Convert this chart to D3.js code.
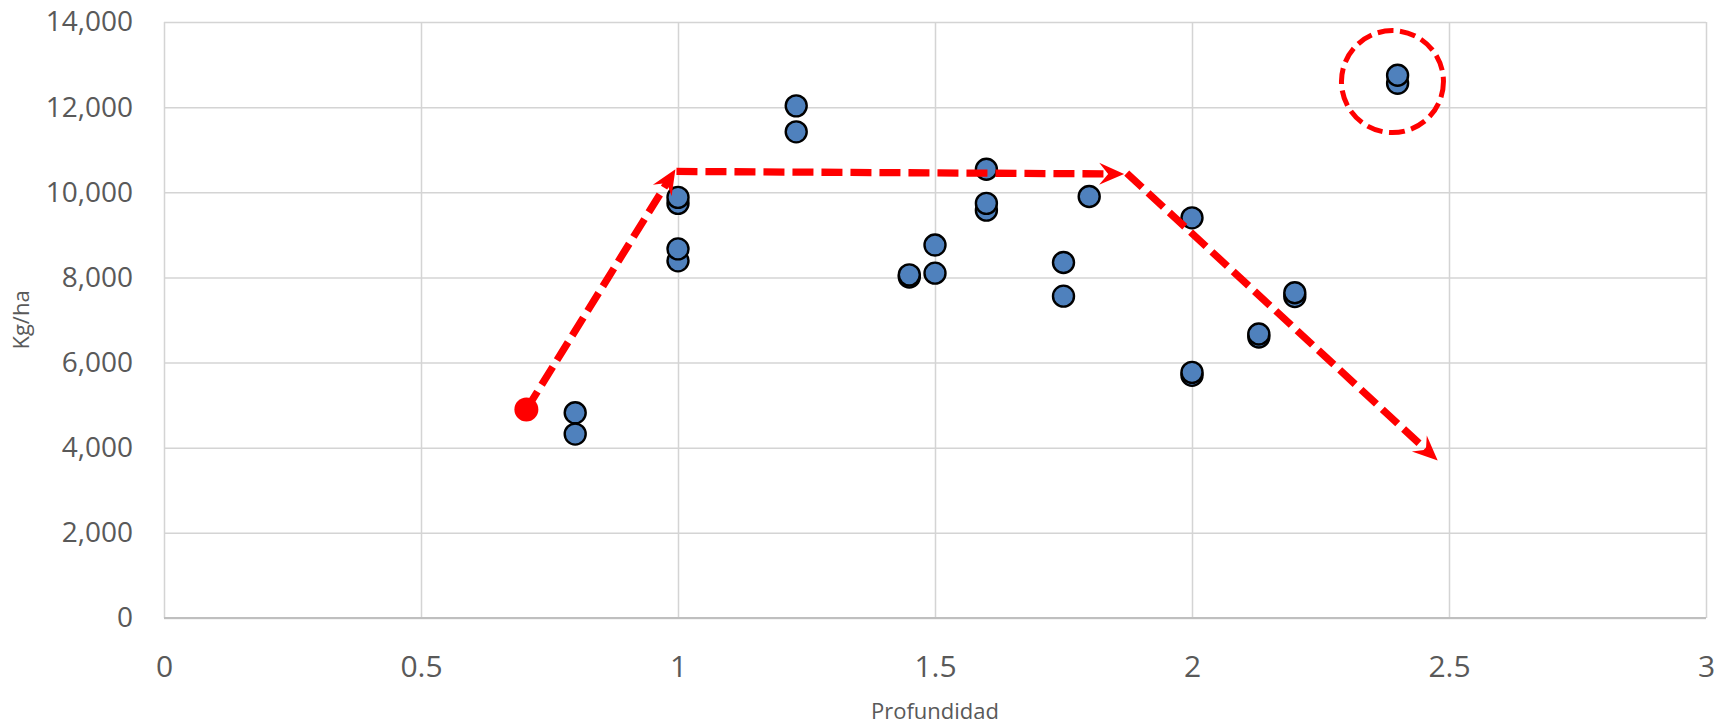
<!DOCTYPE html>
<html><head><meta charset="utf-8">
<script src="https://cdn.jsdelivr.net/npm/d3@7"></script>
<style>
html,body{margin:0;padding:0;background:#fff;}
svg{display:block;}
</style></head>
<body>
<svg id="chart" width="1729" height="726"></svg>
<script>
// ---- data ----
const profundidad = [0.8,0.8, 1.0,1.0,1.0,1.0, 1.23,1.23, 1.45,1.45, 1.5,1.5, 1.6,1.6,1.6, 1.75,1.75, 1.8, 2.0,2.0,2.0, 2.13,2.13, 2.2,2.2, 2.4,2.4];
const kgHa        = [4320,4820, 8390,8670,9740,9880, 11420,12030, 8010,8060, 8100,8760, 9580,9740,10540, 7560,8350, 9900, 5700,5770,9400, 6600,6670, 7550,7640, 12560,12750];
const xTicks = [0,0.5,1,1.5,2,2.5,3];
const xTickLabels = ["0","0.5","1","1.5","2","2.5","3"];
const yTicks = [0,2000,4000,6000,8000,10000,12000,14000];
const xTitle = "Profundidad";
const yTitle = "Kg/ha";
// annotation trend arrows (data coordinates)
const arrowStart = [0.705, 4900];
const arrows = [
  [[0.705, 4900],[0.995,10540]],
  [[0.997,10490],[1.868,10430]],
  [[1.873,10450],[2.478,3700]]
];
const highlightCenter = [2.39, 12600];

// ---- layout ----
const svg = d3.select("#chart");
const L=164, R=1706, T=22, B=618;
const x = d3.scaleLinear().domain([0,3]).range([L,R]);
const y = d3.scaleLinear().domain([0,14000]).range([B,T]);
const textColor = "#595959";
const font = "'Open Sans', 'Noto Sans', sans-serif";

// y axis with gridlines
const yAxis = svg.append("g").attr("transform",`translate(${L},0)`)
  .call(d3.axisLeft(y).tickValues(yTicks).tickFormat(d3.format(",")).tickSize(-(R-L)).tickPadding(31));
yAxis.select(".domain").remove();
yAxis.selectAll("line").attr("stroke","#d4d4d4").attr("stroke-width",1.5);
yAxis.selectAll("text").attr("fill",textColor).style("font-family",font).style("font-size","28px");

// x axis with gridlines
const xAxis = svg.append("g").attr("transform",`translate(0,${B})`)
  .call(d3.axisBottom(x).tickValues(xTicks).tickFormat((d,i)=>xTickLabels[i]).tickSize(-(B-T)).tickPadding(38));
xAxis.select(".domain").remove();
xAxis.selectAll("line").attr("stroke","#d4d4d4").attr("stroke-width",1.5);
xAxis.selectAll("text").attr("fill",textColor).style("font-family",font).style("font-size","30px");

// bottom axis line
svg.append("line").attr("x1",L).attr("x2",R).attr("y1",y(0)).attr("y2",y(0))
  .attr("stroke","#bfbfbf").attr("stroke-width",1.8);

// titles
svg.append("text").attr("x",(L+R)/2).attr("y",719).attr("text-anchor","middle")
  .attr("fill",textColor).style("font-family",font).style("font-size","22px").text(xTitle);
svg.append("text").attr("transform",`translate(29,${(T+B)/2}) rotate(-90)`).attr("text-anchor","middle")
  .attr("fill",textColor).style("font-family",font).style("font-size","22px").text(yTitle);

// points
const pts = profundidad.map((p,i)=>({p, v:kgHa[i]}));
svg.append("g").selectAll("circle").data(pts).join("circle")
  .attr("cx",d=>x(d.p)).attr("cy",d=>y(d.v)).attr("r",10.5)
  .attr("fill","#4f81bd").attr("stroke","#000").attr("stroke-width",2.4);

// annotations
const red = "#ff0000";
const ann = svg.append("g");
ann.append("circle").attr("cx",x(arrowStart[0])).attr("cy",y(arrowStart[1])).attr("r",12).attr("fill",red);

arrows.forEach(([a,b])=>{
  const x1=x(a[0]), y1=y(a[1]), x2=x(b[0]), y2=y(b[1]);
  const dx=x2-x1, dy=y2-y1, len=Math.hypot(dx,dy), ux=dx/len, uy=dy/len;
  const ex=x2-ux*15, ey=y2-uy*15;
  ann.append("line").attr("x1",x1).attr("y1",y1).attr("x2",ex).attr("y2",ey)
    .attr("stroke",red).attr("stroke-width",7.3).attr("stroke-dasharray","21,8");
  const ang = Math.atan2(dy,dx)*180/Math.PI;
  ann.append("path").attr("d","M0,0 L-25,-11 L-16,0 L-25,11 Z")
    .attr("transform",`translate(${x2},${y2}) rotate(${ang})`).attr("fill",red);
});

ann.append("circle").attr("cx",x(highlightCenter[0])).attr("cy",y(highlightCenter[1])).attr("r",51)
  .attr("fill","none").attr("stroke",red).attr("stroke-width",5).attr("stroke-dasharray","16,6.5");
</script>
</body></html>
